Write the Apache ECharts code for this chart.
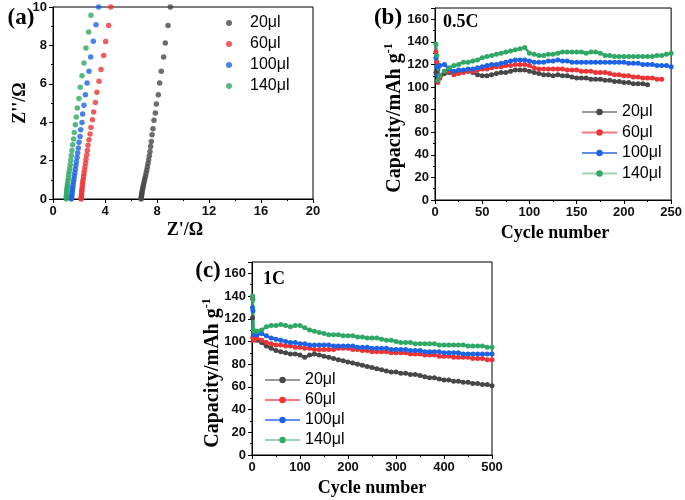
<!DOCTYPE html>
<html>
<head>
<meta charset="utf-8">
<script src="https://cdn.jsdelivr.net/npm/echarts@6/dist/echarts.min.js"></script>
<style>html,body{margin:0;padding:0;background:#fff}#c{width:685px;height:500px}</style>
</head>
<body>
<div id="c"></div>
<script>
// ---------- labels ----------
const seriesLabels = ['20μl', '60μl', '100μl', '140μl'];
const colors = ['#474747', '#ec3437', '#1c63e6', '#2fa865'];
const legendLineColors = ['#9a9a9a', '#f27a7a', '#5f8ff0', '#9fd3b4'];

// ---------- panel (a): Nyquist, [Z' , Z''] ----------
const eis20 = [[9.03,10],[8.85,9.04],[8.64,8.13],[8.51,7.4],[8.33,6.65],[8.2,6.04],[8.1,5.43],[7.95,4.95],[7.87,4.48],[7.77,4.1],[7.69,3.66],[7.62,3.35],[7.56,3.0],[7.51,2.74],[7.46,2.48],[7.41,2.25],[7.36,2.04],[7.31,1.85],[7.26,1.67],[7.21,1.5],[7.16,1.34],[7.11,1.19],[7.06,1.05],[7.02,0.92],[6.98,0.8],[6.94,0.68],[6.91,0.57],[6.88,0.47],[6.85,0.37],[6.83,0.28],[6.81,0.19],[6.8,0.11],[6.79,0.04],[6.78,0]];
const eis60 = [[4.44,10],[4.28,9.04],[4.05,8.2],[3.9,7.47],[3.69,6.74],[3.54,6.13],[3.38,5.56],[3.26,5.03],[3.13,4.53],[3.03,4.13],[2.92,3.73],[2.85,3.39],[2.77,3.09],[2.69,2.8],[2.64,2.53],[2.59,2.29],[2.54,2.07],[2.5,1.87],[2.46,1.68],[2.42,1.5],[2.38,1.33],[2.35,1.17],[2.32,1.02],[2.29,0.88],[2.27,0.75],[2.25,0.62],[2.23,0.5],[2.21,0.39],[2.2,0.29],[2.19,0.2],[2.18,0.11],[2.17,0.04],[2.17,0]];
const eis100 = [[3.51,10],[3.31,9.08],[3.1,8.21],[2.9,7.4],[2.77,6.65],[2.62,6.04],[2.49,5.43],[2.38,4.88],[2.28,4.43],[2.23,3.99],[2.13,3.61],[2.08,3.26],[2.0,2.95],[1.95,2.66],[1.9,2.4],[1.85,2.16],[1.8,1.94],[1.76,1.74],[1.72,1.55],[1.68,1.37],[1.64,1.2],[1.61,1.04],[1.58,0.9],[1.55,0.76],[1.52,0.63],[1.5,0.51],[1.48,0.4],[1.46,0.3],[1.45,0.2],[1.43,0.11],[1.42,0.04],[1.41,0]];
const eis140 = [[2.92,9.57],[2.74,8.7],[2.54,7.86],[2.38,7.08],[2.23,6.42],[2.1,5.82],[2.0,5.24],[1.87,4.74],[1.79,4.27],[1.72,3.87],[1.64,3.47],[1.59,3.13],[1.51,2.83],[1.46,2.53],[1.41,2.27],[1.37,2.03],[1.33,1.81],[1.29,1.61],[1.25,1.43],[1.21,1.26],[1.18,1.1],[1.15,0.95],[1.12,0.81],[1.1,0.68],[1.08,0.56],[1.06,0.45],[1.05,0.35],[1.04,0.25],[1.03,0.16],[1.02,0.08],[1.02,0]];

// ---------- panel (b): 0.5C cycling ----------
const cyclesB = [1,2,3,5,10,15,20,25,30,35,40,45,50,55,60,65,70,75,80,85,90,95,100,105,110,115,120,125,130,135,140,145,150,155,160,165,170,175,180,185,190,195,200,205,210,215,220,225,230,235,240,245,250];
const capB20 = [113,112,106,108,112,113,113,114,114,114,113,111,110,110,111,112,113,113,114,115,115,115,114,113,112,111,111,110,111,110,110,109,108,108,108,107,107,107,106,106,105,105,104,104,103,103,103,102];
const capB60 = [131,122,104,108,114,114,111,112,113,114,114,115,116,116,117,118,118,119,119,120,120,120,119,117,116,116,116,116,116,116,115,115,115,114,114,114,113,113,113,112,111,111,110,110,109,109,108,108,108,107,107];
const capB100 = [126,118,110,119,120,116,114,115,115,116,116,117,118,119,120,120,121,122,123,124,124,124,123,122,122,122,123,123,124,123,123,122,122,122,122,122,122,122,122,122,122,122,122,121,121,121,120,120,120,119,119,119,118];
const capB140 = [138,128,106,110,114,117,119,120,122,122,123,124,126,127,128,129,130,131,132,133,134,135,130,129,128,128,129,129,130,131,131,131,131,131,130,131,131,130,128,128,127,127,127,127,127,127,127,127,127,128,128,129,130];

// ---------- panel (c): 1C cycling ----------
const cyclesC = [1,2,3,5,10,20,30,40,50,60,70,80,90,100,110,120,130,140,150,160,170,180,190,200,210,220,230,240,250,260,270,280,290,300,310,320,330,340,350,360,370,380,390,400,410,420,430,440,450,460,470,480,490,500];
const capC20 = [121,104,102,102,101,99,96,94,92,91,90,89,89,88,86,88,89,88,87,86,85,84,83,82,81,80,79,78,77,76,75,74,73,73,72,72,71,71,70,69,68,68,67,66,66,65,65,64,64,63,63,62,62,61];
const capC60 = [138,103,101,102,103,101,99,98,97,97,96,96,95,95,94,94,93,93,93,93,93,94,94,94,93,93,92,92,91,91,91,91,90,90,90,90,89,89,89,88,88,88,87,87,87,86,86,86,86,85,85,85,84,84];
const capC100 = [130,127,108,106,106,107,105,103,102,101,100,99,99,98,98,97,97,97,97,97,96,96,96,96,96,95,95,95,94,94,94,94,93,93,93,93,92,92,92,91,91,91,91,90,90,90,90,89,89,89,89,89,89,89];
const capC140 = [140,137,110,109,109,110,113,114,114,115,114,113,114,114,112,110,109,108,107,106,106,106,105,105,105,104,104,103,103,103,102,101,101,100,99,99,99,98,98,98,98,98,97,97,97,97,97,97,96,96,96,96,95,95];

// ---------- axis ticks ----------
const ticksA = { xMin: 0, xMax: 20, xStep: 4, yMin: 0, yMax: 10, yStep: 2 };
const ticksB = { xMin: 0, xMax: 250, xStep: 50, yMin: 0, yMax: 170, yStep: 20 };
const ticksC = { xMin: 0, xMax: 500, xStep: 100, yMin: 0, yMax: 170, yStep: 20 };

const pair = (xs, ys) => ys.map((v, i) => [xs[i], v]);

const SANS = 'Liberation Sans, Arial, sans-serif';
const SERIF = 'Liberation Serif, Times New Roman, serif';

function axis(gridIndex, min, max, step) {
  return {
    type: 'value', gridIndex, min, max, interval: step,
    axisLine: { show: true, onZero: false, lineStyle: { color: '#000', width: 1 } },
    axisTick: { show: true, inside: false, length: 4, lineStyle: { color: '#000' } },
    minorTick: { show: true, splitNumber: 2, length: 2, lineStyle: { color: '#000' } },
    splitLine: { show: false },
    axisLabel: { color: '#111', fontFamily: SANS, fontWeight: 'bold', fontSize: 13, margin: 6, showMaxLabel: true }
  };
}

const grids = [
  { left: 53, top: 7, width: 260, height: 192 },
  { left: 435, top: 8, width: 239, height: 192 },
  { left: 252, top: 262, width: 240, height: 193 }
].map(g => Object.assign(g, { show: true, borderColor: '#000', borderWidth: 1, backgroundColor: 'transparent' }));

const xAxes = [axis(0, ticksA.xMin, ticksA.xMax, ticksA.xStep), axis(1, ticksB.xMin, ticksB.xMax, ticksB.xStep), axis(2, ticksC.xMin, ticksC.xMax, ticksC.xStep)];
const yAxes = [axis(0, ticksA.yMin, ticksA.yMax, ticksA.yStep), axis(1, ticksB.yMin, ticksB.yMax, ticksB.yStep), axis(2, ticksC.yMin, ticksC.yMax, ticksC.yStep)];
yAxes[1].axisLabel.showMaxLabel = false;
yAxes[2].axisLabel.showMaxLabel = false;

const series = [];
const eisData = [eis20, eis60, eis100, eis140];
eisData.forEach((d, i) => series.push({
  name: 'a' + i, type: 'scatter', xAxisIndex: 0, yAxisIndex: 0, data: d,
  symbol: 'circle', symbolSize: 5.5, itemStyle: { color: colors[i] }
}));
const bData = [capB20, capB60, capB100, capB140];
bData.forEach((d, i) => series.push({
  name: 'b' + i, type: 'line', xAxisIndex: 1, yAxisIndex: 1, data: pair(cyclesB, d),
  symbol: 'circle', symbolSize: 5, showSymbol: true,
  lineStyle: { color: colors[i], width: 2.5 }, itemStyle: { color: colors[i] }
}));
const cData = [capC20, capC60, capC100, capC140];
cData.forEach((d, i) => series.push({
  name: 'c' + i, type: 'line', xAxisIndex: 2, yAxisIndex: 2, data: pair(cyclesC, d),
  symbol: 'circle', symbolSize: 5, showSymbol: true,
  lineStyle: { color: colors[i], width: 2.5 }, itemStyle: { color: colors[i] }
}));

const nameMap = {};
['a', 'b', 'c'].forEach(p => seriesLabels.forEach((l, i) => nameMap[p + i] = l));

function legend(prefix, left, top, gap, isLine) {
  return {
    orient: 'vertical', left, top, itemGap: gap,
    itemWidth: isLine ? 35 : 32, itemHeight: isLine ? 8 : 6,
    selectedMode: false,
    formatter: n => nameMap[n],
    textStyle: { color: '#000', fontFamily: SANS, fontSize: 16, lineHeight: 16 },
    data: seriesLabels.map((l, i) => isLine
      ? { name: prefix + i, lineStyle: { color: legendLineColors[i], width: 2 }, itemStyle: { color: colors[i] } }
      : { name: prefix + i, icon: 'circle', itemStyle: { color: colors[i] } })
  };
}

function txt(text, x, y, size, extra) {
  return Object.assign({
    type: 'text', x, y, z: 100,
    style: { text, fill: '#000', font: 'bold ' + size + 'px ' + SERIF, align: 'center', verticalAlign: 'middle' }
  }, extra || {});
}
function capTitle(x, y) {
  return {
    type: 'text', x, y, rotation: Math.PI / 2, z: 100,
    style: {
      text: '{a|Capacity/mAh g}{s|-1}', align: 'center', verticalAlign: 'middle', fill: '#000',
      rich: {
        a: { fontFamily: SERIF, fontWeight: 'bold', fontSize: 20, fill: '#000', lineHeight: 24 },
        s: { fontFamily: SERIF, fontWeight: 'bold', fontSize: 12, fill: '#000', verticalAlign: 'top', lineHeight: 24 }
      }
    }
  };
}

const graphics = [
  txt('(a)', 21, 18, 23),
  txt('(b)', 388, 18, 23),
  txt('(c)', 208, 271, 23),
  txt('0.5C', 443, 22, 18, {}),
  txt('1C', 263, 279, 18, {}),
  txt("Z''/Ω", 20, 103, 18, { rotation: Math.PI / 2 }),
  txt("Z'/Ω", 185, 230, 18),
  txt('Cycle number', 555, 233, 18),
  txt('Cycle number', 372, 488, 18),
  capTitle(395, 118),
  capTitle(213, 373)
];
graphics[3].style.align = 'left';
graphics[4].style.align = 'left';

const chart = echarts.init(document.getElementById('c'), null, { renderer: 'canvas' });
chart.setOption({
  animation: false,
  backgroundColor: '#fff',
  grid: grids,
  xAxis: xAxes,
  yAxis: yAxes,
  legend: [
    legend('a', 221, 10, 5, false),
    legend('b', 576, 99, 4.5, true),
    legend('c', 259, 367, 4, true)
  ],
  series,
  graphic: graphics
});
</script>
</body>
</html>
